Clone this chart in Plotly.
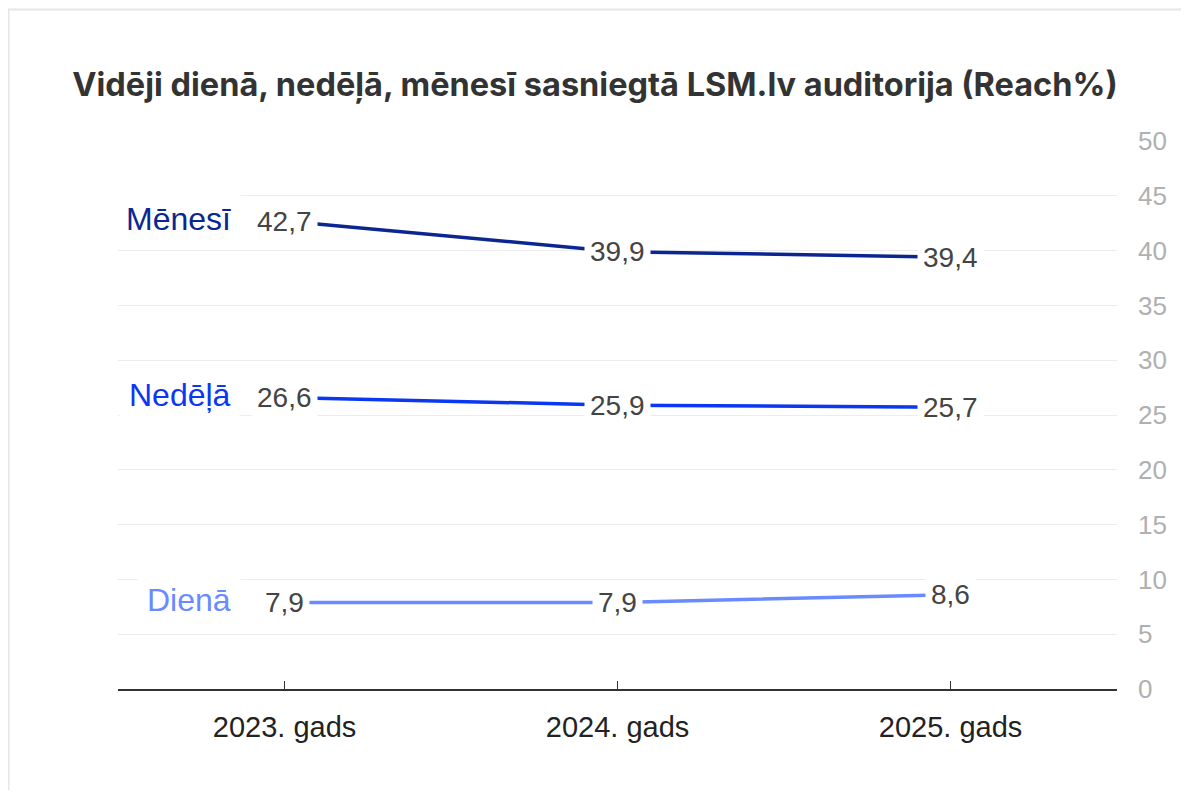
import plotly.graph_objects as go

categories = ["2023. gads", "2024. gads", "2025. gads"]
series_names = ["Mēnesī", "Nedēļā", "Dienā"]
menesi = [42.7, 39.9, 39.4]
nedela = [26.6, 25.9, 25.7]
diena = [7.9, 7.9, 8.6]
y_ticks = [0, 5, 10, 15, 20, 25, 30, 35, 40, 45, 50]

series = [menesi, nedela, diena]
colors = ["#0B2690", "#0A37F2", "#6A8BFF"]

# page body has an 8px margin; figure coordinates = page coordinates - 8
W, H = 1181, 782
L, T, PW, PH = 110, 133, 999, 548

fig = go.Figure()
for name, vals, col in zip(series_names, series, colors):
    fig.add_trace(go.Scatter(x=categories, y=vals, mode="lines", name=name,
                             line=dict(color=col, width=3.5), showlegend=False,
                             hoverinfo="skip"))

annotations = []
for name, vals, col in zip(series_names, series, colors):
    for cat, v in zip(categories, vals):
        annotations.append(dict(
            x=cat, y=v, xref="x", yref="y",
            text=f"{v:.1f}".replace(".", ","),
            showarrow=False, xanchor="center", yanchor="middle",
            font=dict(family="Liberation Sans, Arial, sans-serif", size=28, color="#444444"),
            bgcolor="white", borderpad=5,
        ))
    annotations.append(dict(
        x=(233 - L) / PW, y=vals[0] + 0.2, xref="paper", yref="y",
        text=name, showarrow=False, xanchor="right", yanchor="middle",
        font=dict(family="Liberation Sans, Arial, sans-serif", size=32, color=col),
        bgcolor="white", borderpad=9,
    ))

fig.update_layout(
    width=W, height=H,
    margin=dict(l=L, r=W - L - PW, t=T, b=H - T - PH),
    paper_bgcolor="white", plot_bgcolor="white",
    title=dict(text="<b>Vidēji dienā, nedēļā, mēnesī sasniegtā LSM.lv auditorija (Reach%)</b>",
               x=(587 - 0) / W, xanchor="center", y=1 - 77 / H, yanchor="middle",
               font=dict(family="Inter, sans-serif", size=32.5, color="#333333")),
    annotations=annotations,
    shapes=[dict(type="rect", xref="paper", yref="paper",
                 x0=(0.5 - L) / PW, x1=(W + 20 - L) / PW,
                 y0=(T + PH - H - 20) / PH, y1=(T + PH - 1.5) / PH,
                 line=dict(color="#e6e6e6", width=2), layer="below")],
    xaxis=dict(type="category", range=[-0.5, 2.5], showgrid=False,
               showline=True, linecolor="#333333", linewidth=1.5,
               ticks="inside", ticklen=8, tickcolor="#333333",
               ticklabelstandoff=11,
               tickfont=dict(family="Liberation Sans, Arial, sans-serif", size=29, color="#222222")),
    yaxis=dict(range=[0, 50], side="right", tickvals=y_ticks,
               showgrid=True, gridcolor="#ececec", gridwidth=1,
               zeroline=False, showline=False, ticks="",
               ticklabelstandoff=20,
               tickfont=dict(family="Liberation Sans, Arial, sans-serif", size=26, color="#b0b0b0")),
)

fig.write_html("out.html")
